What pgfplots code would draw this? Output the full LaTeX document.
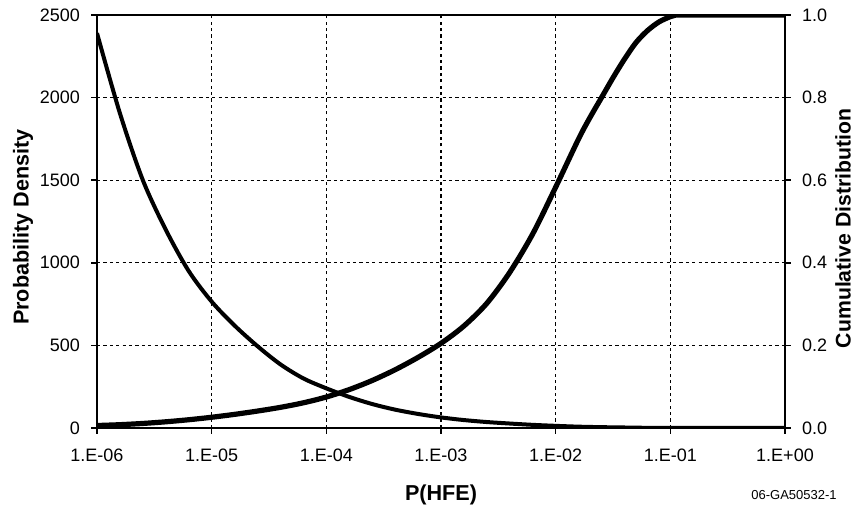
\documentclass[border=0pt]{standalone}
\usepackage{pgfplots}
\pgfplotsset{compat=1.18}
\usepackage{fontspec}
\setmainfont{Liberation Sans}

\pgfplotstableread{
P        dens
1e-6     2390
1.585e-6 1905
2.512e-6 1500
3.981e-6 1200
6.310e-6 950
1e-5     765
1.585e-5 620
2.512e-5 495
3.981e-5 385
6.310e-5 300
1e-4     240
1.585e-4 188
2.512e-4 145
3.981e-4 111
6.310e-4 85
1e-3     64
1.585e-3 48
2.512e-3 36
3.981e-3 27
6.310e-3 19
1e-2     13
1.585e-2 8
2.512e-2 5
3.981e-2 3
6.310e-2 1
1e-1     0
1        0
}\densdata

\pgfplotstableread{
P        cum
1e-6     0.006
1.585e-6 0.008
2.512e-6 0.011
3.981e-6 0.015
6.310e-6 0.020
1e-5     0.026
1.585e-5 0.033
2.512e-5 0.041
3.981e-5 0.050
6.310e-5 0.061
1e-4     0.075
1.585e-4 0.093
2.512e-4 0.115
3.981e-4 0.141
6.310e-4 0.171
1e-3     0.205
1.585e-3 0.247
2.512e-3 0.302
3.981e-3 0.377
6.310e-3 0.470
1e-2     0.583
1.585e-2 0.700
1.995e-2 0.752
2.512e-2 0.800
3.162e-2 0.848
3.981e-2 0.893
5.012e-2 0.933
6.310e-2 0.962
7.943e-2 0.983
1e-1     0.996
1.122e-1 1.000
1.585e-1 1.000
1        1.000
}\cumdata

\begin{document}
\begin{tikzpicture}
\begin{axis}[
  scale only axis, width=344pt, height=206.5pt,
  xmode=log, xmin=1e-6, xmax=1,
  xminorticks=false,
  tick align=outside,
  major tick length=3pt,
  tick style={black, line width=0.8pt},
  axis line style={black, line width=1pt},
  tick label style={font=\fontsize{9}{10}\selectfont},
  name=ax,
  ymin=0, ymax=2500,
  xtick={1e-6,1e-5,1e-4,1e-3,1e-2,1e-1,1},
  xticklabels={1.E-06,1.E-05,1.E-04,1.E-03,1.E-02,1.E-01,1.E+00},
  ytick={0,500,1000,1500,2000,2500},
  xtick pos=bottom, ytick pos=left,
  scaled y ticks=false,
  grid=major,
  major grid style={black, line width=0.6pt, dash pattern=on 1.6pt off 1.6pt},
  yticklabel style={xshift=-2pt, /pgf/number format/1000 sep={}, /pgf/number format/assume math mode=true},
  xticklabel style={yshift=-4pt},
]
\addplot[black, line width=2pt, smooth, tension=0.5] table[x=P, y=dens] {\densdata};
\end{axis}
\begin{axis}[
  scale only axis, width=344pt, height=206.5pt,
  xmode=log, xmin=1e-6, xmax=1,
  xtick=\empty, xminorticks=false,
  tick align=outside,
  major tick length=3pt,
  tick style={black, line width=0.8pt},
  axis line style={black, line width=1pt},
  tick label style={font=\fontsize{9}{10}\selectfont},
  axis x line=none,
  axis y line*=right,
  ymin=0, ymax=1,
  ytick={0,0.2,0.4,0.6,0.8,1},
  yticklabel style={/pgf/number format/fixed, /pgf/number format/fixed zerofill, /pgf/number format/precision=1, /pgf/number format/assume math mode=true, xshift=2pt},
]
\addplot[black, line width=2.6pt, smooth, tension=0.5] table[x=P, y=cum] {\cumdata};
\end{axis}
\node[rotate=90, font=\bfseries\fontsize{10.8}{12}\selectfont] at ([xshift=-37pt, yshift=-2.75pt]ax.west) {Probability Density};
\node[rotate=90, font=\bfseries\fontsize{10.6}{12}\selectfont] at ([xshift=29pt, yshift=-3.5pt]ax.east) {Cumulative Distribution};
\node[font=\bfseries\fontsize{10.8}{12}\selectfont] at ([yshift=-33.5pt]ax.south) {P(HFE)};
\node[font=\fontsize{6.5}{7}\selectfont] at ([xshift=4.5pt, yshift=-33.5pt]ax.south east) {06-GA50532-1};
\pgfresetboundingbox
\useasboundingbox ([shift={(-48.5pt,-39pt)}]ax.south west) rectangle ([shift={(33.5pt,7.5pt)}]ax.north east);
\end{tikzpicture}
\end{document}
